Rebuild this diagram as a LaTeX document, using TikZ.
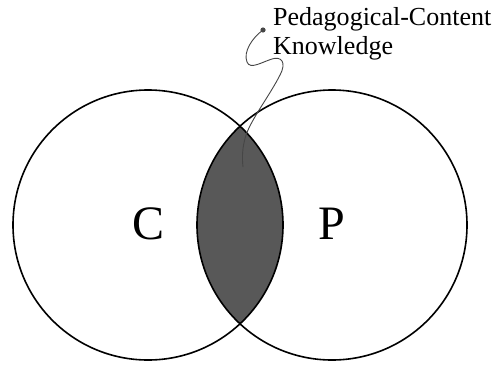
\documentclass[tikz,border=0pt]{standalone}
\usepackage{fontspec}
\setmainfont{Liberation Serif}
\usepackage{tikz}
\usetikzlibrary{calc,positioning}
\usepackage{xcolor}
\definecolor{lensgray}{RGB}{88,88,88}
\definecolor{curvegray}{RGB}{70,70,70}

\begin{document}
\begin{tikzpicture}[x=1pt,y=-1pt]
  \useasboundingbox (0,0) rectangle (497,364);
  % shaded overlap of the two circles
  \begin{scope}
    \clip (148,225) circle (135);
    \fill[lensgray] (332,225) circle (135);
  \end{scope}
  \node[draw, circle, line width=1.6pt, minimum size=270pt, inner sep=0pt] (cset) at (148,225) {};
  \node[draw, circle, line width=1.6pt, minimum size=270pt, inner sep=0pt] (pset) at (332,225) {};
  \node[font=\fontsize{48}{48}\selectfont, inner sep=0pt] (clab) at (149,224) {C};
  \node[font=\fontsize{48}{48}\selectfont, inner sep=0pt] (plab) at (332,224) {P};
  \node[anchor=north west, align=left, inner sep=0pt, font=\fontsize{26}{29}\selectfont] (pck) at (273,7) {Pedagogical-Content\\Knowledge};
  \coordinate (dot) at (263,30);
  \coordinate (hook) at (243,167);
  \fill[curvegray] (dot) circle (2.6);
  \draw[curvegray, line width=0.9pt] (dot) .. controls (252,38) and (243,52) .. (247,62)
    .. controls (250,70) and (262,62) .. (272,59)
    .. controls (281,56) and (287,62) .. (280,75)
    .. controls (270,95) and (252,118) .. (246,135)
    .. controls (242,148) and (242,158) .. (hook);
\end{tikzpicture}
\end{document}
